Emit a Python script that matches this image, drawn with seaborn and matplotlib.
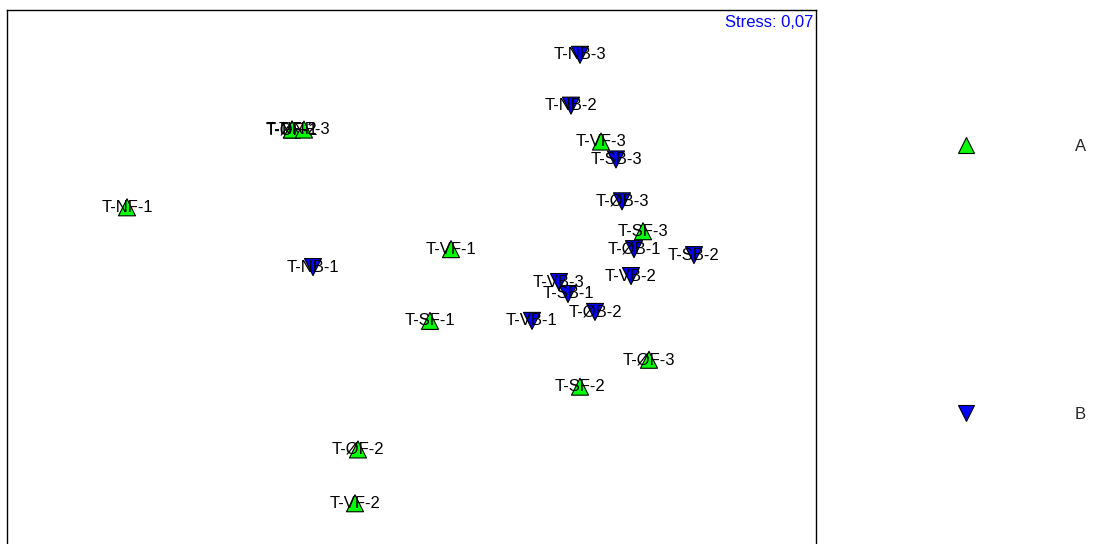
import matplotlib
matplotlib.use("Agg")
import matplotlib.pyplot as plt
from matplotlib.lines import Line2D
import seaborn as sns
import pandas as pd

# ---- data (NMDS coordinates) ----
labels_a = ["T-NF-1", "T-ØF-1", "T-NF-2", "T-NF-3", "T-VF-1", "T-SF-1",
            "T-SF-2", "T-SF-3", "T-ØF-2", "T-ØF-3", "T-VF-2", "T-VF-3"]
x_a = [-0.95, -0.40, -0.40, -0.36, 0.13, 0.06, 0.56, 0.77, -0.18, 0.79, -0.19, 0.63]
y_a = [0.23, 0.49, 0.49, 0.49, 0.09, -0.15, -0.37, 0.15, -0.58, -0.28, -0.76, 0.45]

labels_b = ["T-NB-1", "T-NB-2", "T-NB-3", "T-ØB-1", "T-ØB-2", "T-ØB-3",
            "T-SB-1", "T-SB-2", "T-SB-3", "T-VB-1", "T-VB-2", "T-VB-3"]
x_b = [-0.33, 0.53, 0.56, 0.74, 0.61, 0.70, 0.52, 0.94, 0.68, 0.40, 0.73, 0.49]
y_b = [0.03, 0.57, 0.74, 0.09, -0.12, 0.25, -0.06, 0.07, 0.39, -0.15, 0.00, -0.02]

groups = ["A", "B"]
group_colors = {"A": "#00ff00", "B": "#0000ff"}
group_markers = {"A": "^", "B": "v"}
stress_text = "Stress: 0,07"

df = pd.DataFrame({
    "label": labels_a + labels_b,
    "x": x_a + x_b,
    "y": y_a + y_b,
    "group": ["A"] * len(labels_a) + ["B"] * len(labels_b),
})

sns.set_theme(style="white")
plt.rcParams["font.family"] = ["Liberation Sans", "DejaVu Sans"]

W, H = 1093, 544
fig = plt.figure(figsize=(W / 100, H / 100), dpi=100)
ax = fig.add_axes([7 / W, -2 / H, (816 - 7) / W, (544 - 10 + 2) / H])

sns.scatterplot(data=df, x="x", y="y", hue="group", style="group",
                palette=group_colors, markers=group_markers, s=150,
                edgecolor="black", linewidth=0.8, legend=False, ax=ax, zorder=2)

for _, r in df.iterrows():
    ax.text(r["x"], r["y"], r["label"], ha="center", va="center",
            fontsize=12, color="black", zorder=3)

ax.set_xlim(-1.35, 1.3467)
ax.set_ylim(-0.903, 0.89)
ax.set_xticks([])
ax.set_yticks([])
ax.set_xlabel("")
ax.set_ylabel("")
for sp in ax.spines.values():
    sp.set_color("black")
    sp.set_linewidth(1.0)

ax.text(0.997, 0.99, stress_text, transform=ax.transAxes, ha="right", va="top",
        color="#0000ff", fontsize=12)

handles = [Line2D([], [], linestyle="none", marker=group_markers[g],
                  markerfacecolor=group_colors[g], markeredgecolor="black",
                  markeredgewidth=0.8, markersize=12.2) for g in groups]
fig.legend(handles, groups, loc="upper left",
           bbox_to_anchor=(949.3 / W, 1 - 139 / H), frameon=False,
           fontsize=12, labelspacing=15.2, handletextpad=5.54,
           handlelength=2.0, borderpad=0, borderaxespad=0)

fig.savefig("out.png", dpi=100)
